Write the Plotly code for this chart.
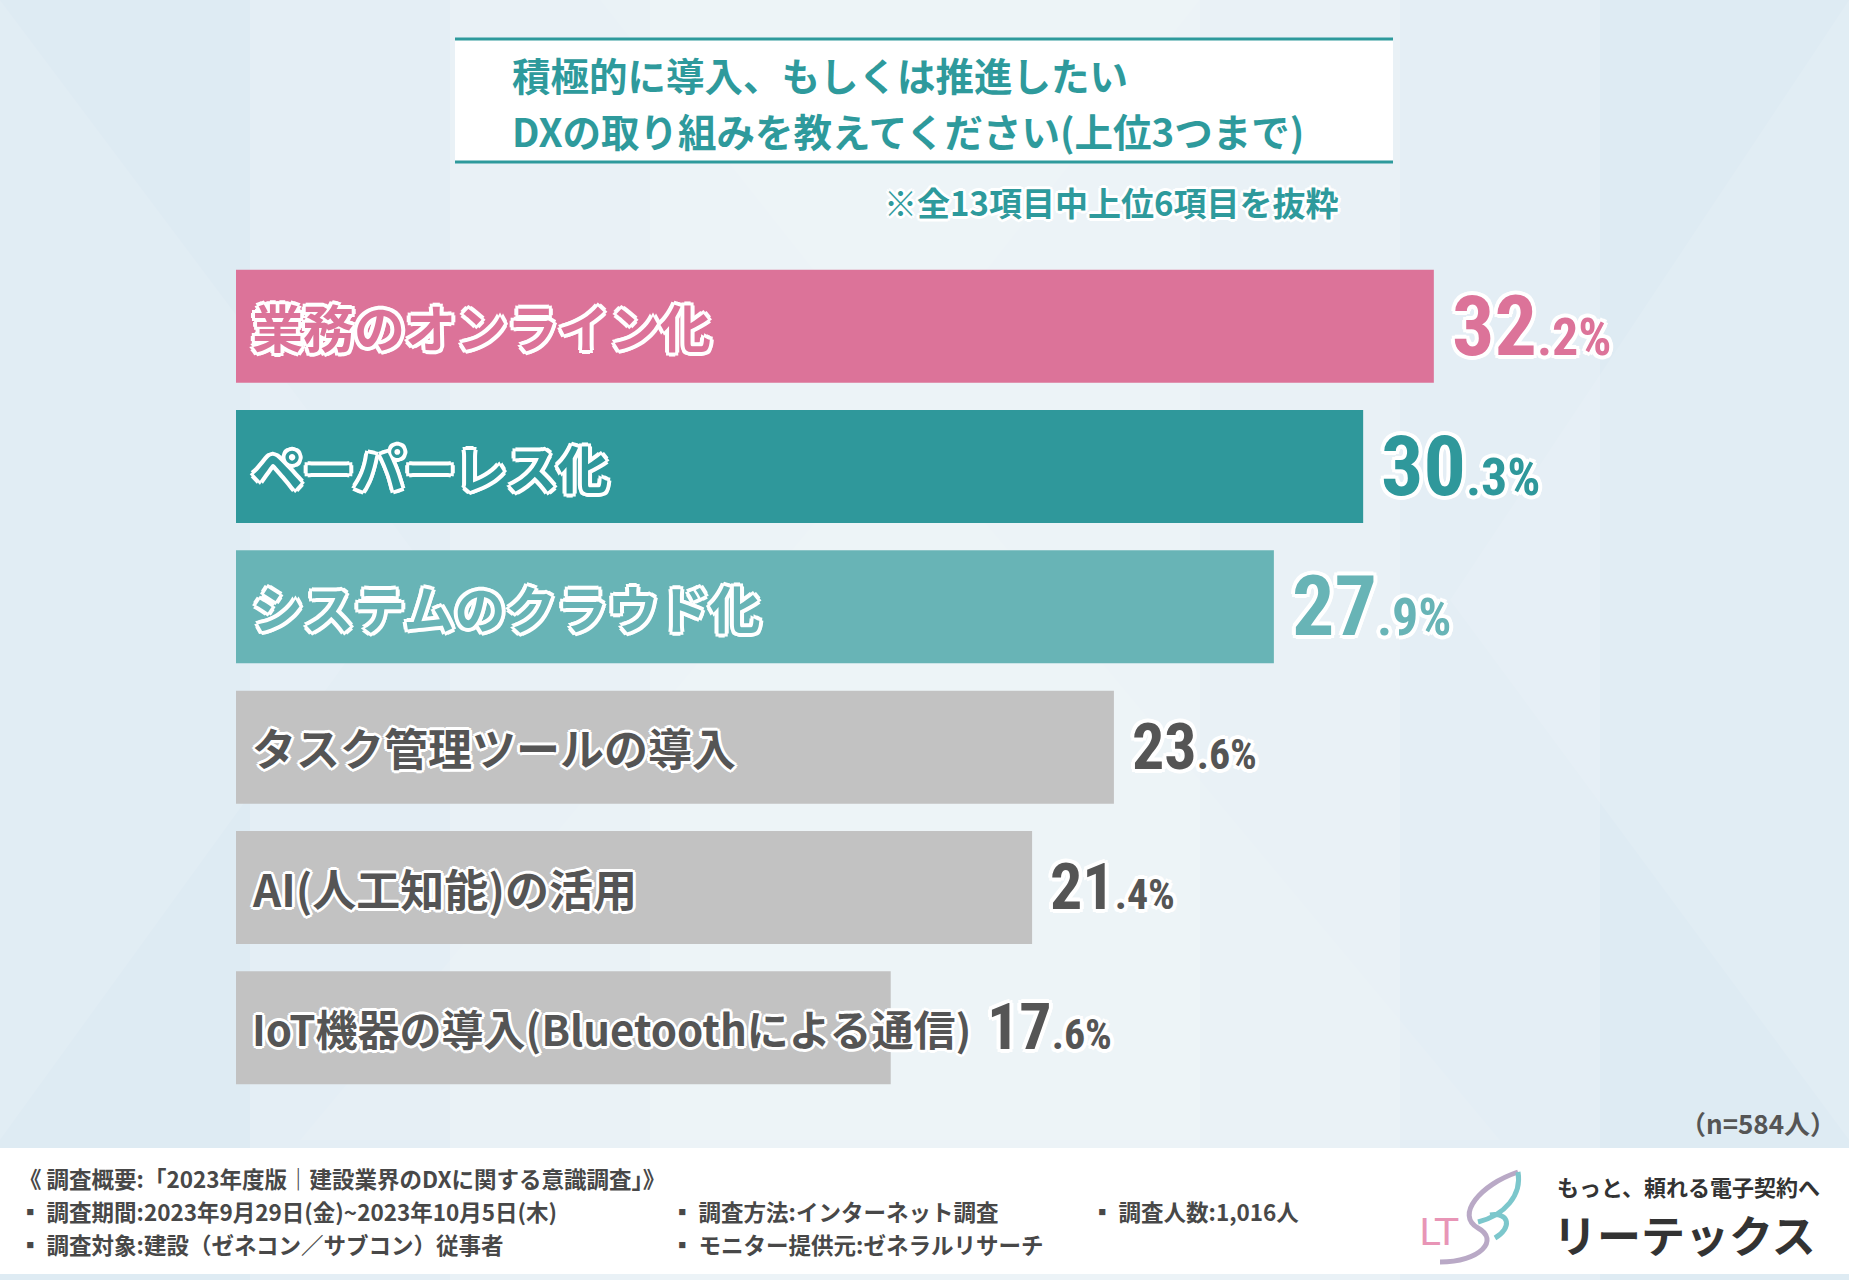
import plotly.graph_objects as go

# 集計データ
items = [
    "業務のオンライン化",
    "ペーパーレス化",
    "システムのクラウド化",
    "タスク管理ツールの導入",
    "AI(人工知能)の活用",
    "IoT機器の導入(Bluetoothによる通信)",
]
values = [32.2, 30.3, 27.9, 23.6, 21.4, 17.6]
bar_colors = ["#dc7399", "#2f989b", "#68b4b6", "#c2c2c2", "#c2c2c2", "#c2c2c2"]
value_colors = ["#dc7399", "#2f989b", "#68b4b6", "#555555", "#555555", "#555555"]

title_lines = ["積極的に導入、もしくは推進したい", "DXの取り組みを教えてください(上位3つまで)"]
subtitle = "※全13項目中上位6項目を抜粋"
n_note = "（n=584人）"
footer_head = "《 調査概要:「2023年度版｜建設業界のDXに関する意識調査」》"
footer_rows = [
    ["▪ 調査期間:2023年9月29日(金)~2023年10月5日(木)", "▪ 調査方法:インターネット調査", "▪ 調査人数:1,016人"],
    ["▪ 調査対象:建設（ゼネコン／サブコン）従事者", "▪ モニター提供元:ゼネラルリサーチ", ""],
]
brand_sub = "もっと、頼れる電子契約へ"
brand = "リーテックス"

W, H = 1849, 1280
ML, MT, MB = 236, 256, 182
PW, PH = W - ML, H - MT - MB
PX_PER_PCT = 37.2

JP = "Noto Sans CJK JP"
NUM = "Roboto Condensed, DejaVu Sans Condensed, Liberation Sans Narrow, DejaVu Sans"
TEAL = "#2e9a9c"


def X(px):
    return (px - ML) / PW


def Y(py):
    return 1 - (py - MT) / PH


def outline(color, w=3):
    parts = []
    for dx, dy in [(w, 0), (-w, 0), (0, w), (0, -w), (w - 1, w - 1), (1 - w, 1 - w), (w - 1, 1 - w), (1 - w, w - 1)]:
        parts.append(f"{dx}px {dy}px 0 {color}")
    return ", ".join(parts)


fig = go.Figure(go.Bar(
    x=values,
    y=items,
    orientation="h",
    marker=dict(color=bar_colors, line=dict(width=0)),
    hoverinfo="skip",
))

shapes = []
# 背景のグラデーション風
for x0, x1, op in [(250, 1600, 0.18), (450, 1400, 0.18), (650, 1200, 0.15)]:
    shapes.append(dict(type="rect", xref="paper", yref="paper", x0=X(x0), x1=X(x1), y0=Y(0), y1=Y(H),
                       fillcolor="white", opacity=op, line_width=0, layer="below"))
# 背景の幾何学模様
for path_pts, op in [
    ([(0, 0), (420, 560), (0, 1140)], 0.10),
    ([(1849, 0), (1450, 600), (1849, 1140)], 0.10),
    ([(300, 1140), (900, 420), (1500, 1140)], 0.08),
    ([(600, 0), (1200, 0), (900, 380)], 0.08),
]:
    d = "M " + " L ".join(f"{X(a)},{Y(b)}" for a, b in path_pts) + " Z"
    shapes.append(dict(type="path", xref="paper", yref="paper", path=d, fillcolor="white",
                       opacity=op, line_width=0, layer="below"))

# タイトル枠
shapes.append(dict(type="rect", xref="paper", yref="paper", x0=X(455), x1=X(1393), y0=Y(40), y1=Y(162),
                   fillcolor="white", line_width=0, layer="below"))
for yy in (39, 162):
    shapes.append(dict(type="line", xref="paper", yref="paper", x0=X(455), x1=X(1393), y0=Y(yy), y1=Y(yy),
                       line=dict(color=TEAL, width=3)))
# フッター帯
shapes.append(dict(type="rect", xref="paper", yref="paper", x0=X(0), x1=X(W), y0=Y(1148), y1=Y(1274),
                   fillcolor="white", line_width=0, layer="below"))
# ロゴの羽
shapes.append(dict(type="path", xref="paper", yref="paper",
                   path=f"M {X(1518)},{Y(1172)} C {X(1480)},{Y(1185)} {X(1455)},{Y(1215)} {X(1478)},{Y(1228)} "
                        f"C {X(1500)},{Y(1240)} {X(1480)},{Y(1262)} {X(1440)},{Y(1262)}",
                   line=dict(color="#b9a9c6", width=5)))
shapes.append(dict(type="path", xref="paper", yref="paper",
                   path=f"M {X(1518)},{Y(1172)} C {X(1522)},{Y(1195)} {X(1505)},{Y(1215)} {X(1478)},{Y(1222)} "
                        f"M {X(1490)},{Y(1215)} C {X(1510)},{Y(1212)} {X(1512)},{Y(1228)} {X(1495)},{Y(1238)}",
                   line=dict(color="#7cc7cc", width=5)))

annotations = []
# タイトル（2行）
for line, ty in zip(title_lines, (74, 130)):
    annotations.append(dict(xref="paper", yref="paper", x=X(511), y=Y(ty), xanchor="left", yanchor="middle",
                            text=line, showarrow=False, borderpad=0,
                            font=dict(family=JP, size=38.5, color=TEAL, weight="bold")))
annotations.append(dict(xref="paper", yref="paper", x=X(1340), y=Y(202), xanchor="right", yanchor="middle",
                        text=subtitle, showarrow=False,
                        font=dict(family=JP, size=33, color=TEAL, weight="bold", shadow=outline("white", 3))))

# 項目ラベルと数値
label_size = {5: 42}
value_extra = {5: 78}
for i, (name, v) in enumerate(zip(items, values)):
    colored = i < 3
    annotations.append(dict(
        x=0, y=name, xref="x", yref="y", xanchor="left", yanchor="middle", xshift=14,
        text=name, showarrow=False,
        font=dict(family=JP, size=51 if colored else label_size.get(i, 44), weight="bold",
                  color=bar_colors[i] if colored else "#555555",
                  shadow=outline("white", 4 if colored else 3)),
    ))
    whole, dec = f"{v:.1f}".split(".")
    big, small = (84, 52) if colored else (64, 42)
    annotations.append(dict(
        x=v, y=name, xref="x", yref="y", xanchor="left", yanchor="middle",
        xshift=16 + value_extra.get(i, 0),
        text=f"{whole}<span style='font-size:{small}px'>.{dec}%</span>", showarrow=False,
        font=dict(family=NUM, size=big, weight="bold",
                  color=value_colors[i], shadow=outline("white", 4)),
    ))

# n数
annotations.append(dict(xref="paper", yref="paper", x=X(1838), y=Y(1122), xanchor="right", yanchor="middle",
                        text=n_note, showarrow=False,
                        font=dict(family=JP, size=26, color="#555555", weight="bold")))

# フッター
foot_font = dict(family=JP, size=22.5, color="#484848", weight="bold")
annotations.append(dict(xref="paper", yref="paper", x=X(18), y=Y(1178), xanchor="left", yanchor="middle",
                        text=footer_head, showarrow=False, font=foot_font, borderpad=0))
col_x = [18, 670, 1090]
row_y = [1211, 1244]
for r, row in enumerate(footer_rows):
    for c, txt in enumerate(row):
        if txt:
            annotations.append(dict(xref="paper", yref="paper", x=X(col_x[c]), y=Y(row_y[r]),
                                    xanchor="left", yanchor="middle", text=txt, showarrow=False,
                                    font=foot_font, borderpad=0))

# ロゴ
annotations.append(dict(xref="paper", yref="paper", x=X(1418), y=Y(1232), xanchor="left", yanchor="middle",
                        text="LT", showarrow=False, borderpad=0,
                        font=dict(family="DejaVu Sans", size=38, color="#e895b6", weight="normal")))
annotations.append(dict(xref="paper", yref="paper", x=X(1556), y=Y(1186), xanchor="left", yanchor="middle",
                        text=brand_sub, showarrow=False, borderpad=0,
                        font=dict(family=JP, size=22, color="#333333", weight="bold")))
annotations.append(dict(xref="paper", yref="paper", x=X(1552), y=Y(1234), xanchor="left", yanchor="middle",
                        text=brand, showarrow=False, borderpad=0,
                        font=dict(family=JP, size=44, color="#333333", weight="bold")))

fig.update_layout(
    width=W, height=H,
    margin=dict(l=ML, r=0, t=MT, b=MB),
    paper_bgcolor="#deebf3",
    plot_bgcolor="rgba(0,0,0,0)",
    bargap=0.195,
    showlegend=False,
    xaxis=dict(range=[0, PW / PX_PER_PCT], visible=False, fixedrange=True),
    yaxis=dict(autorange="reversed", visible=False, fixedrange=True),
    shapes=shapes,
    annotations=annotations,
)

fig.write_html("out.html", config={"displayModeBar": False},
               post_script="document.body.style.margin='0';")
